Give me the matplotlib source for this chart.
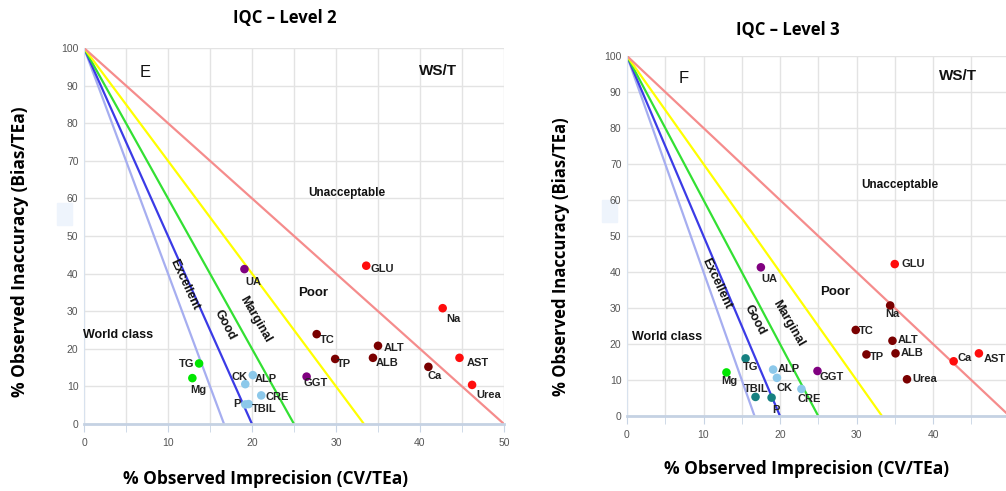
import matplotlib
matplotlib.use("Agg")
import matplotlib.pyplot as plt
from matplotlib.ticker import MultipleLocator, FixedLocator
from matplotlib.patches import Rectangle

# ---------------- data ----------------
sigma_x_intercepts = [16.67, 20.0, 25.0, 33.33, 50.0]
sigma_colors = ["#a6aef0", "#3b3be6", "#33e033", "#ffff00", "#f58c8c"]

l2_tests = ["GLU", "UA", "Na", "TC", "ALT", "ALB", "TP", "AST", "Ca", "Urea",
            "GGT", "TG", "Mg", "CK", "ALP", "CRE", "P", "TBIL"]
l2_cv = [33.6, 19.1, 42.7, 27.7, 35.0, 34.4, 29.9, 44.7, 41.0, 46.2,
         26.5, 13.7, 12.9, 19.2, 20.1, 21.1, 19.2, 19.6]
l2_bias = [42.1, 41.2, 30.8, 23.9, 20.8, 17.6, 17.3, 17.6, 15.2, 10.4,
           12.6, 16.1, 12.2, 10.6, 13.0, 7.6, 5.2, 5.3]
l2_colors = ["#ff0d0d", "#800080", "#ff0d0d", "#7a0000", "#7a0000", "#7a0000", "#7a0000",
             "#ff0d0d", "#7a0000", "#ff0d0d", "#800080", "#00e600", "#00e600",
             "#8cc8ea", "#8cc8ea", "#8cc8ea", "#8cc8ea", "#8cc8ea"]

l3_tests = ["GLU", "UA", "Na", "TC", "ALT", "ALB", "TP", "Ca", "AST", "Urea",
            "GGT", "TG", "Mg", "ALP", "CK", "CRE", "TBIL", "P"]
l3_cv = [35.0, 17.5, 34.4, 29.9, 34.7, 35.1, 31.3, 42.7, 46.0, 36.6,
         24.9, 15.5, 13.0, 19.1, 19.6, 22.8, 16.8, 18.9]
l3_bias = [42.2, 41.3, 30.7, 23.9, 20.9, 17.4, 17.1, 15.2, 17.4, 10.2,
           12.5, 16.0, 12.1, 12.9, 10.6, 7.5, 5.3, 5.1]
l3_colors = ["#ff0d0d", "#800080", "#7a0000", "#7a0000", "#7a0000", "#7a0000", "#7a0000",
             "#ff0d0d", "#ff0d0d", "#7a0000", "#800080", "#168080", "#00e600",
             "#8cc8ea", "#8cc8ea", "#8cc8ea", "#168080", "#168080"]

l2_xticks = [0, 10, 20, 30, 40, 50]
l3_xticks = [0, 10, 20, 30, 40]

# label offsets in pixels (dx, dy, ha)
l2_offsets = {"GLU": (4, -3, "left"), "UA": (9, -13, "center"), "Na": (11, -11, "center"),
              "TC": (3, -6, "left"), "ALT": (6, -2, "left"), "ALB": (3, -5, "left"),
              "TP": (2, -5, "left"), "AST": (7, -5, "left"), "Ca": (6, -9, "center"),
              "Urea": (17, -10, "center"), "GGT": (9, -6, "center"), "TG": (-5, -1, "right"),
              "Mg": (6, -12, "center"), "CK": (-6, 7, "center"), "ALP": (2, -4, "left"),
              "CRE": (4, -2, "left"), "P": (-5, 0, "right"), "TBIL": (3, -5, "left")}
l3_offsets = {"GLU": (7, 0, "left"), "UA": (8, -12, "center"), "Na": (2, -9, "center"),
              "TC": (3, -1, "left"), "ALT": (5, 1, "left"), "ALB": (5, 0, "left"),
              "TP": (3, -3, "left"), "Ca": (4, 3, "left"), "AST": (5, -6, "left"),
              "Urea": (5, 0, "left"), "GGT": (2, -6, "left"), "TG": (5, -9, "center"),
              "Mg": (3, -9, "center"), "ALP": (5, 1, "left"), "CK": (8, -10, "center"),
              "CRE": (8, -10, "center"), "TBIL": (1, 8, "center"), "P": (4, -12, "center")}

NARROW = ["Liberation Sans Narrow", "Liberation Sans", "DejaVu Sans"]
TITLEF = ["Open Sans", "DejaVu Sans"]

fig = plt.figure(figsize=(10.06, 4.91), dpi=100)

# faint highlight boxes beside the y axes (as in the reference image)
fig.patches.append(Rectangle((57 / 1006, 1 - 225 / 491), 15 / 1006, 22 / 491,
                             transform=fig.transFigure, color="#eef4fc", zorder=-5))
fig.patches.append(Rectangle((602 / 1006, 1 - 222 / 491), 15 / 1006, 22 / 491,
                             transform=fig.transFigure, color="#eef4fc", zorder=-5))


def make_panel(ax, tests, cv, bias, colors, offsets, letter, regions, uncc, xticks):
    ax.set_xlim(0, 50)
    ax.set_ylim(0, 100)
    ax.set_axisbelow(True)
    ax.patch.set_alpha(0)
    ax.xaxis.set_major_locator(FixedLocator(xticks))
    ax.xaxis.set_minor_locator(MultipleLocator(5))
    ax.yaxis.set_major_locator(MultipleLocator(10))
    ax.grid(True, which="both", axis="x", color="#e3e3e3", lw=1)
    ax.grid(True, which="major", axis="y", color="#e3e3e3", lw=1)
    for s in ["top", "right"]:
        ax.spines[s].set_visible(False)
    ax.spines["left"].set_color("#d8e2ee")
    ax.spines["bottom"].set_color("#c5d2e3")
    ax.spines["bottom"].set_linewidth(2)
    ax.tick_params(axis="y", length=0, pad=4, labelsize=7.5, labelcolor="#555555")
    ax.tick_params(axis="x", which="major", length=6, color="#c8d4e4", pad=4,
                   labelsize=7.5, labelcolor="#555555")
    ax.tick_params(axis="x", which="minor", length=6, color="#c8d4e4")
    for lab in ax.get_xticklabels() + ax.get_yticklabels():
        lab.set_family(NARROW)

    for xi, c in zip(sigma_x_intercepts, sigma_colors):
        ax.plot([0, xi], [100, 0], color=c, lw=1.6, solid_capstyle="butt", zorder=2)

    ax.scatter(cv, bias, s=38, c=colors, edgecolors="none", zorder=4, clip_on=False)
    for t, x, y in zip(tests, cv, bias):
        dx, dy, ha = offsets[t]
        ax.annotate(t, (x, y), xytext=(dx, dy), textcoords="offset pixels",
                    ha=ha, va="center", fontsize=8, fontweight="bold",
                    family=NARROW, color="#222222", zorder=5)

    bold = dict(fontweight="bold", family=NARROW, color="#111111")
    ax.text(letter[1], letter[2], letter[0], fontsize=12, ha="center", va="center",
            family=NARROW, color="#111111")
    ax.text(regions["wst"][0], regions["wst"][1], "WS/T", fontsize=11, ha="center",
            va="center", **bold)
    ax.text(uncc[0], uncc[1], "Unacceptable", fontsize=8.5, ha="center", va="center", **bold)
    ax.text(regions["wc"][0], regions["wc"][1], "World class", fontsize=9, ha="left",
            va="center", **bold)
    ax.text(regions["exc"][0], regions["exc"][1], "Excellent", fontsize=9, rotation=-65,
            ha="center", va="center", rotation_mode="anchor", **bold)
    ax.text(regions["good"][0], regions["good"][1], "Good", fontsize=9, rotation=-62,
            ha="center", va="center", rotation_mode="anchor", **bold)
    ax.text(regions["marg"][0], regions["marg"][1], "Marginal", fontsize=9, rotation=-60,
            ha="center", va="center", rotation_mode="anchor", **bold)
    ax.text(regions["poor"][0], regions["poor"][1], "Poor", fontsize=9.5, ha="center",
            va="center", **bold)


# left panel (Level 2)
axL = fig.add_axes([84 / 1006, 1 - 424 / 491, 420 / 1006, 376 / 491])
make_panel(axL, l2_tests, l2_cv, l2_bias, l2_colors, l2_offsets, ("E", 7.3, 93.4),
           {"wst": (42.2, 94.0), "wc": (-0.1, 23.7), "exc": (12.0, 37.0),
            "good": (16.8, 26.3), "marg": (20.4, 27.7), "poor": (27.3, 34.8)},
           (31.3, 61.5), l2_xticks)

# right panel (Level 3)
axR = fig.add_axes([627 / 1006, 1 - 416 / 491, 382.5 / 1006, 360 / 491])
make_panel(axR, l3_tests, l3_cv, l3_bias, l3_colors, l3_offsets, ("F", 7.4, 93.8),
           {"wst": (43.3, 94.4), "wc": (0.7, 22.0), "exc": (11.7, 36.9),
            "good": (16.7, 26.7), "marg": (21.1, 25.7), "poor": (27.2, 34.5)},
           (35.6, 64.2), l3_xticks)

# titles and axis labels
fig.text(285 / 1006, 1 - 18 / 491, "IQC \u2013 Level 2", ha="center", va="center",
         fontsize=12, fontweight="bold", family=TITLEF)
fig.text(788 / 1006, 1 - 30 / 491, "IQC \u2013 Level 3", ha="center", va="center",
         fontsize=12, fontweight="bold", family=TITLEF)
fig.text(266 / 1006, 1 - 479 / 491, "% Observed Imprecision (CV/TEa)", ha="center",
         va="center", fontsize=12.5, fontweight="bold", family=TITLEF)
fig.text(807 / 1006, 1 - 469 / 491, "% Observed Imprecision (CV/TEa)", ha="center",
         va="center", fontsize=12.5, fontweight="bold", family=TITLEF)
fig.text(20 / 1006, 1 - 252 / 491, "% Observed Inaccuracy (Bias/TEa)", ha="center",
         va="center", rotation=90, fontsize=12.5, fontweight="bold", family=TITLEF)
fig.text(561 / 1006, 1 - 257 / 491, "% Observed Inaccuracy (Bias/TEa)", ha="center",
         va="center", rotation=90, fontsize=12, fontweight="bold", family=TITLEF)

fig.savefig("out.png", dpi=100)
